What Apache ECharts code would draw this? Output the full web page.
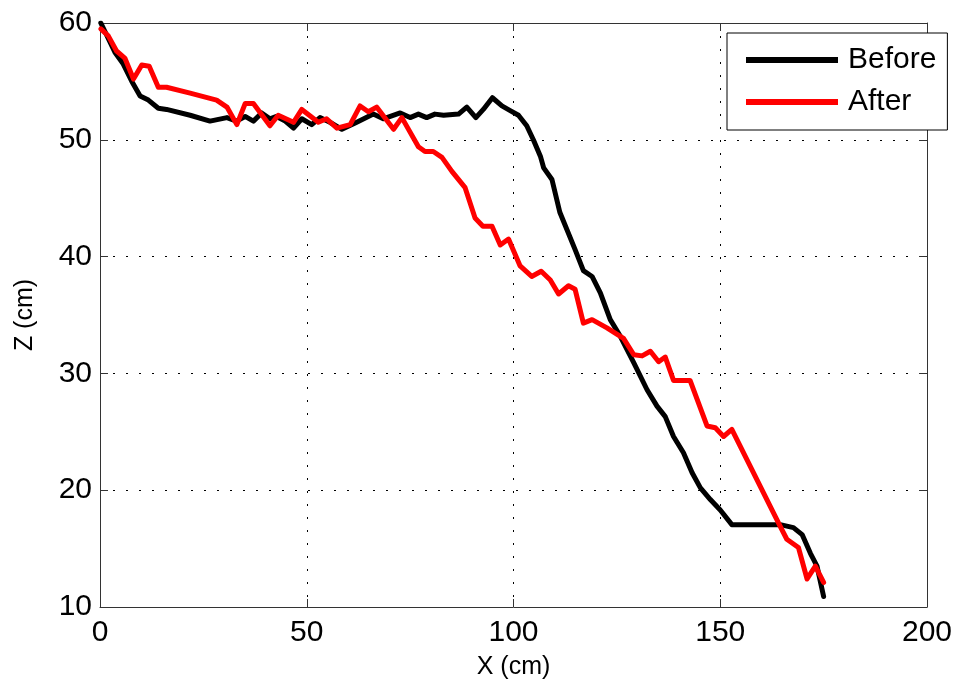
<!DOCTYPE html>
<html>
<head>
<meta charset="utf-8">
<title>Profile before and after</title>
<script src="https://cdn.jsdelivr.net/npm/echarts@6/dist/echarts.min.js"></script>
<style>
  html, body { margin: 0; padding: 0; background: #fff; }
  #chart { width: 962px; height: 693px; }
</style>
</head>
<body>
<div id="chart"></div>
<script>
// Profile measurements (cm): horizontal position X and elevation Z
const beforeX = [0.2, 3.6, 5.6, 7.7, 9.7, 11.7, 14.1, 16.1, 21.8, 26.6, 30.7, 33.0, 35.1, 37.1, 39.1, 41.1, 42.7, 44.8, 46.8, 48.8, 51.2, 53.2, 55.6, 58.5, 62.1, 66.1, 68.5, 72.6, 75.0, 77.0, 79.0, 81.0, 83.1, 86.7, 88.7, 90.9, 92.7, 94.9, 97.2, 99.2, 101.2, 103.2, 104.8, 106.5, 107.3, 109.3, 111.2, 114.9, 116.9, 119.0, 121.0, 123.4, 125.8, 129.1, 132.3, 134.7, 136.7, 138.7, 141.1, 143.2, 145.2, 147.6, 150.0, 152.8, 164.5, 167.7, 169.8, 171.8, 173.4, 175.0];
const beforeZ = [60.0, 57.5, 56.5, 55.0, 53.75, 53.4, 52.7, 52.6, 52.1, 51.6, 51.9, 51.6, 52.0, 51.6, 52.3, 51.8, 52.0, 51.6, 51.0, 51.8, 51.3, 51.9, 51.5, 50.9, 51.5, 52.2, 51.8, 52.3, 51.9, 52.2, 51.9, 52.2, 52.1, 52.2, 52.8, 51.9, 52.6, 53.6, 52.9, 52.5, 52.1, 51.2, 50.0, 48.6, 47.6, 46.6, 43.8, 40.6, 38.8, 38.3, 36.9, 34.6, 33.2, 30.9, 28.6, 27.2, 26.3, 24.6, 23.2, 21.5, 20.2, 19.2, 18.3, 17.05, 17.05, 16.8, 16.2, 14.6, 13.5, 10.9];

const afterX = [0.2, 2.0, 4.0, 6.0, 8.1, 10.1, 11.9, 14.1, 16.1, 21.8, 28.2, 30.7, 33.1, 35.1, 37.1, 41.1, 43.1, 46.8, 48.8, 52.8, 54.8, 57.3, 60.5, 62.9, 64.9, 66.9, 71.0, 73.0, 77.0, 78.6, 80.6, 82.7, 85.1, 88.3, 90.7, 92.6, 94.8, 96.8, 98.8, 101.6, 104.4, 106.7, 108.9, 110.9, 113.3, 114.9, 116.9, 119.0, 122.6, 126.6, 129.1, 131.1, 133.1, 135.1, 136.7, 138.7, 142.7, 146.8, 148.8, 150.8, 152.8, 164.5, 166.1, 168.9, 171.0, 173.0, 175.0];
const afterZ = [59.5, 58.9, 57.6, 57.0, 55.2, 56.4, 56.3, 54.5, 54.5, 54.0, 53.4, 52.8, 51.3, 53.1, 53.1, 51.2, 52.1, 51.5, 52.6, 51.5, 51.8, 51.0, 51.3, 52.9, 52.4, 52.8, 50.9, 51.9, 49.4, 49.0, 49.0, 48.5, 47.3, 45.9, 43.3, 42.6, 42.6, 41.0, 41.5, 39.2, 38.3, 38.75, 38.0, 36.8, 37.5, 37.2, 34.3, 34.6, 33.9, 33.0, 31.6, 31.5, 31.9, 31.0, 31.4, 29.4, 29.4, 25.5, 25.35, 24.6, 25.2, 16.9, 15.8, 15.1, 12.4, 13.5, 12.1];

const seriesNames = ['Before', 'After'];
const xTicks = { min: 0, max: 200, interval: 50 };
const zTicks = { min: 10, max: 60, interval: 10 };

const pairs = (xs, zs) => xs.map((x, i) => [x, zs[i]]);

const FONT = '"Liberation Sans", Arial, sans-serif';
const boxColor = '#333';

const gridLine = {
  show: true,
  lineStyle: { color: '#000', width: 1, type: [2, 11] }
};

function mainAxisBase(range) {
  return {
    type: 'value',
    min: range.min, max: range.max, interval: range.interval,
    axisLine: { show: true, onZero: false, lineStyle: { color: boxColor, width: 1 } },
    axisTick: { show: true, inside: true, length: 8, lineStyle: { color: boxColor } },
    splitLine: gridLine
  };
}

function mirrorAxis(range, position) {
  return {
    type: 'value', position: position,
    min: range.min, max: range.max, interval: range.interval,
    axisLine: { show: true, onZero: false, lineStyle: { color: boxColor, width: 1 } },
    axisTick: { show: true, inside: true, length: 8, lineStyle: { color: boxColor } },
    axisLabel: { show: false },
    splitLine: { show: false }
  };
}

const chart = echarts.init(document.getElementById('chart'), null, { renderer: 'canvas' });

chart.setOption({
  backgroundColor: '#fff',
  animation: false,
  grid: { left: 100, right: 35, top: 23, bottom: 86 },
  xAxis: [
    Object.assign(mainAxisBase(xTicks), {
      position: 'bottom',
      name: 'X (cm)', nameLocation: 'middle', nameGap: 48,
      nameTextStyle: { fontFamily: FONT, fontSize: 25, color: '#000' },
      axisLabel: { fontFamily: FONT, fontSize: 30, color: '#000', margin: 11 }
    }),
    mirrorAxis(xTicks, 'top')
  ],
  yAxis: [
    Object.assign(mainAxisBase(zTicks), {
      position: 'left',
      name: 'Z (cm)', nameLocation: 'middle', nameGap: 62,
      nameTextStyle: { fontFamily: FONT, fontSize: 25, color: '#000' },
      axisLabel: { fontFamily: FONT, fontSize: 30, color: '#000', margin: 8 }
    }),
    mirrorAxis(zTicks, 'right')
  ],
  legend: {
    orient: 'vertical',
    left: 727, top: 33,
    backgroundColor: '#fff',
    borderColor: '#000', borderWidth: 1, borderRadius: 0,
    padding: [12, 11, 13, 19],
    itemWidth: 92, itemHeight: 6, itemGap: 12,
    icon: 'rect',
    textStyle: { fontFamily: FONT, fontSize: 30, color: '#000', lineHeight: 30, padding: [0, 0, 0, 5] },
    data: seriesNames
  },
  series: [
    {
      name: seriesNames[0], type: 'line',
      xAxisIndex: 0, yAxisIndex: 0,
      data: pairs(beforeX, beforeZ),
      showSymbol: false, symbol: 'none',
      color: '#000',
      lineStyle: { color: '#000', width: 5, join: 'round', cap: 'round' },
      z: 3
    },
    {
      name: seriesNames[1], type: 'line',
      xAxisIndex: 0, yAxisIndex: 0,
      data: pairs(afterX, afterZ),
      showSymbol: false, symbol: 'none',
      color: '#ff0000',
      lineStyle: { color: '#ff0000', width: 5, join: 'round', cap: 'round' },
      z: 4
    }
  ]
});
</script>
</body>
</html>
